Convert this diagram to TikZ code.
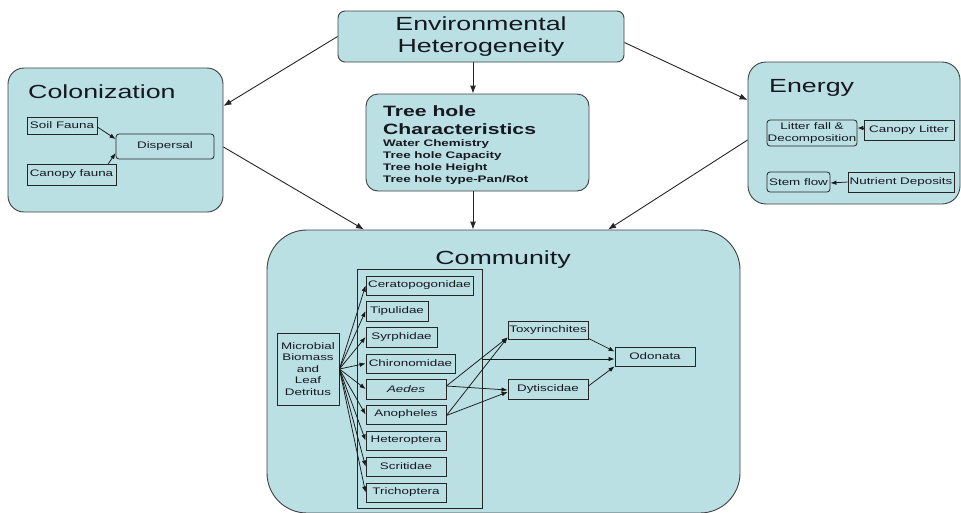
\documentclass[tikz,border=0pt]{standalone}
\usepackage{fontspec}
\setmainfont{Liberation Sans}[FakeStretch=1.41]
\usetikzlibrary{arrows.meta}

\definecolor{boxfill}{RGB}{187,224,228}
\definecolor{inkdark}{RGB}{22,24,32}

\newcommand{\hdfont}{\fontsize{19}{22.5}\selectfont}
\newcommand{\thfont}{\fontsize{15}{18}\selectfont\bfseries}
\newcommand{\lblfont}{\fontsize{9.5}{11.5}\selectfont}
\newcommand{\lblbold}{\fontsize{9.5}{11.7}\selectfont\bfseries}

\begin{document}
\begin{tikzpicture}[x=1pt,y=-1pt,
  panel/.style={draw=black!75, fill=boxfill, line width=0.9pt, inner sep=0pt},
  unit/.style={draw=black!85, fill=boxfill, line width=0.8pt, inner sep=0pt,
               font=\lblfont, text=inkdark},
  label/.style={inner sep=0pt, text=inkdark},
  flow/.style={-{Latex[length=8pt,width=6pt]}, line width=0.9pt, draw=black!85},
  link/.style={-{Latex[length=6pt,width=4.5pt]}, line width=0.75pt, draw=black!90},
]
\useasboundingbox (0,0) rectangle (961,512);

% ---- top: environmental heterogeneity
\node[panel, rounded corners=7pt, minimum width=286pt, minimum height=51pt,
      align=center, font=\hdfont, text=inkdark] (env) at (481,36.5)
      {Environmental\\Heterogeneity};

% ---- colonization panel
\node[panel, rounded corners=16pt, minimum width=215pt, minimum height=144pt] (col) at (115.5,140) {};
\node[label, anchor=base west, font=\hdfont] (coltitle) at (28,98) {Colonization};
\node[unit, minimum width=70pt, minimum height=17pt] (soil) at (62,125.5) {Soil Fauna};
\node[unit, minimum width=89pt, minimum height=21pt] (canopyf) at (71.5,174.5) {Canopy fauna};
\node[unit, rounded corners=3pt, minimum width=98pt, minimum height=25pt] (disp) at (165,146.5) {Dispersal};
\draw[link] ([yshift=-1.5pt]soil.east) -- ([yshift=7.5pt]disp.west);
\draw[link] ([xshift=-8pt]canopyf.north east) -- ([yshift=-6.5pt]disp.west);

% ---- tree hole characteristics
\node[panel, rounded corners=12pt, minimum width=223pt, minimum height=97pt] (tree) at (477.5,142.5) {};
\node[label, anchor=base west, font=\thfont] (treehead) at (383,116) {Tree hole};
\node[label, anchor=base west, font=\thfont] (treehead2) at (383,134) {Characteristics};
\node[label, anchor=base west, font=\lblbold] (tl1) at (383,146.7) {Water Chemistry};
\node[label, anchor=base west, font=\lblbold] (tl2) at (383,158.7) {Tree hole Capacity};
\node[label, anchor=base west, font=\lblbold] (tl3) at (383,170.4) {Tree hole Height};
\node[label, anchor=base west, font=\lblbold] (tl4) at (383,182)   {Tree hole type-Pan/Rot};

% ---- energy panel
\node[panel, rounded corners=18pt, minimum width=212pt, minimum height=142pt] (energy) at (854,133) {};
\node[label, anchor=base west, font=\hdfont] (entitle) at (769,92) {Energy};
\node[unit, rounded corners=3pt, minimum width=90pt, minimum height=26pt, align=center] (litter) at (812,133)
     {Litter fall \&\\Decomposition};
\node[unit, minimum width=90pt, minimum height=20pt] (canlit) at (909,130) {Canopy Litter};
\node[unit, rounded corners=3pt, minimum width=63pt, minimum height=20pt] (stem) at (798.5,182) {Stem flow};
\node[unit, minimum width=106pt, minimum height=20pt] (nutr) at (901,182) {Nutrient Deposits};
\draw[link] ([yshift=2pt]canlit.west) -- ([yshift=5pt]litter.east);
\draw[link] (nutr.west) -- ([yshift=-1pt]stem.east);

% ---- community panel
\node[panel, rounded corners=40pt, minimum width=473pt, minimum height=283pt] (comm) at (503.5,371.5) {};
\node[label, anchor=base, font=\hdfont] (commtitle) at (503,264) {Community};
\node[draw=black!85, line width=0.8pt, minimum width=125pt, minimum height=239pt, inner sep=0pt] (grp) at (419.5,388.5) {};

\node[unit, minimum width=62pt, minimum height=72pt, align=center] (mic) at (308,369)
     {Microbial\\Biomass\\and\\Leaf\\Detritus};

\node[unit, minimum width=107pt, minimum height=19pt] (cer) at (419.5,285.5) {Ceratopogonidae};
\node[unit, minimum width=62pt,  minimum height=20pt] (tip) at (397,311)     {Tipulidae};
\node[unit, minimum width=71pt,  minimum height=20pt] (syr) at (401.5,337)   {Syrphidae};
\node[unit, minimum width=89pt,  minimum height=19pt] (chi) at (410.5,363.5) {Chironomidae};
\node[unit, minimum width=80pt,  minimum height=20pt] (aed) at (406,389)     {\itshape Aedes};
\node[unit, minimum width=80pt,  minimum height=19pt] (ano) at (406,414.5)   {Anopheles};
\node[unit, minimum width=80pt,  minimum height=19pt] (het) at (406,440.5)   {Heteroptera};
\node[unit, minimum width=80pt,  minimum height=19pt] (scr) at (406,466.5)   {Scritidae};
\node[unit, minimum width=80pt,  minimum height=19pt] (tri) at (406,492.5)   {Trichoptera};

\node[unit, minimum width=80pt, minimum height=18pt] (toxy) at (548,330)   {Toxyrinchites};
\node[unit, minimum width=80pt, minimum height=20pt] (dyt)  at (548,389)   {Dytiscidae};
\node[unit, minimum width=80pt, minimum height=19pt] (odo)  at (655,356.5) {Odonata};

\foreach \t in {cer,tip,syr,chi,aed,ano,het,scr,tri}
  \draw[link] (mic.east) -- (\t.west);

\draw[link] ([yshift=3pt]aed.east) -- ([yshift=2pt]toxy.south west);
\draw[link] ([yshift=-1pt]ano.east) -- ([yshift=2pt]toxy.south west);
\draw[link] ([yshift=3pt]aed.east) -- ([yshift=-1pt]dyt.west);
\draw[link] ([yshift=-1pt]ano.east) -- ([yshift=-3pt]dyt.west);
\draw[link] ([yshift=-2.5pt]grp.east |- odo.west) -- ([yshift=-2.5pt]odo.west);
\draw[link] ([yshift=1pt]toxy.south east) -- ([yshift=5pt]odo.west);
\draw[link] ([yshift=3pt]dyt.east) -- (odo.south west);

% ---- links between panels
\draw[flow] (env.west) -- ([yshift=34pt]col.east);
\draw[flow] ([yshift=-6pt]env.east) -- ([yshift=33pt]energy.west);
\draw[flow] ([xshift=-4.5pt]tree.north |- env.south) -- ([xshift=-4.5pt]tree.north);
\draw[flow] ([yshift=-7pt]col.east) -- ([xshift=-139.5pt]comm.north);
\draw[flow] ([xshift=-4.5pt]tree.south) -- ([xshift=-4.5pt]tree.south |- comm.north);
\draw[flow] ([yshift=-7pt]energy.west) -- ([xshift=104.5pt]comm.north);
\end{tikzpicture}
\end{document}
